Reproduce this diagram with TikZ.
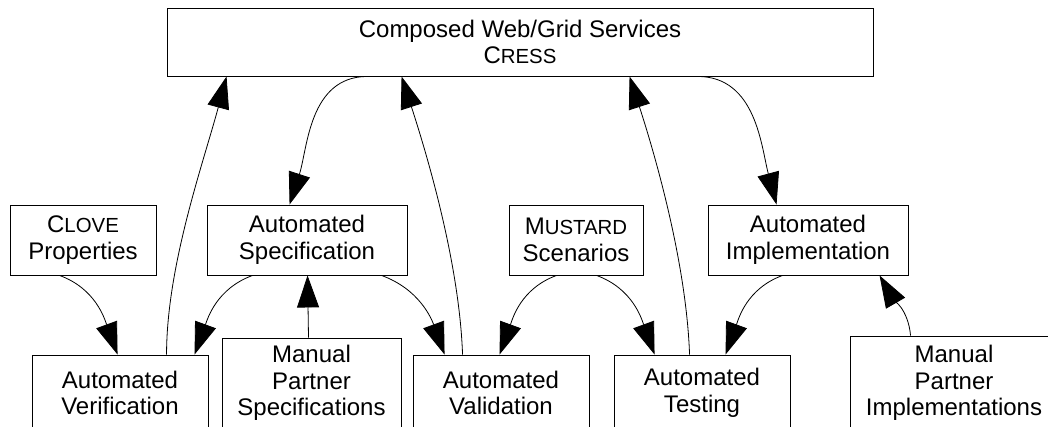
\documentclass[tikz,border=0pt]{standalone}
\usepackage{fontspec}
\setmainfont{Liberation Sans}
\usetikzlibrary{arrows.meta,calc}
% capital initial followed by smaller capitals
\newcommand\fsc[2]{#1{\fontsize{20.4}{26.5}\selectfont #2}}
\begin{document}
\begin{tikzpicture}[x=1pt,y=-1pt,
  box/.style={draw, line width=0.9pt, inner sep=0pt, align=center,
    font=\fontsize{24}{26.5}\selectfont},
  link/.style={line width=0.8pt, -{Triangle[length=32pt,width=22pt]}}]
\useasboundingbox (0,0) rectangle (1048,426);
\clip (0,0) rectangle (1048,426);

% top box
\node[box, minimum width=706pt, minimum height=68pt] (cress) at (520,42)
  {Composed Web/Grid Services\\\fsc{C}{RESS}};

% middle row
\node[box, minimum width=146pt, minimum height=70pt] (clove) at (83,240) {\fsc{C}{LOVE}\\Properties};
\node[box, minimum width=200pt, minimum height=70pt] (spec) at (307,240) {Automated\\Specification};
\node[box, minimum width=134pt, minimum height=70pt] (must) at (576,240) {\fsc{M}{USTARD}\\Scenarios};
\node[box, minimum width=200pt, minimum height=70pt] (impl) at (808,240) {Automated\\Implementation};

% bottom row
\node[box, minimum width=176pt, minimum height=76pt] (ver) at (120,393) {Automated\\Verification};
\node[box, minimum width=179pt, minimum height=90pt] (mps) at (311.5,383) {Manual\\Partner\\Specifications};
\node[box, minimum width=176pt, minimum height=76pt] (val) at (501,393) {Automated\\Validation};
\node[box, minimum width=176pt, minimum height=76pt] (test) at (702,393) {Automated\\Testing};
\node[box, minimum width=208pt, minimum height=94pt] (mpi) at (954,383) {Manual\\Partner\\Implementations};

% connectors to and from the top box
\draw[link] ($(ver.north west)+(135,0)$) to[out=90,in=-105,looseness=0.8] ($(cress.south west)+(60,0)$);
\draw[link] ($(cress.south west)+(201,0)$) to[out=180,in=72] ($(spec.north west)+(83,0)$);
\draw[link] ($(val.north west)+(50,0)$) to[out=92,in=-72,looseness=0.8] ($(cress.south west)+(235,0)$);
\draw[link] ($(test.north west)+(76,0)$) to[out=92,in=-72,looseness=0.8] ($(cress.south west)+(463,0)$);
\draw[link] ($(cress.south west)+(531,0)$) to[out=0,in=105] ($(impl.north west)+(69,0)$);

% connectors between the lower rows
\draw[link] ($(clove.south west)+(50,0)$) to[out=-20,in=110] ($(ver.north west)+(86,0)$);
\draw[link] ($(spec.south west)+(46,0)$) to[out=200,in=70] ($(ver.north west)+(163,0)$);
\draw[link] ($(mps.north)+(-3,0)$) -- ($(spec.south west)+(101,0)$);
\draw[link] ($(spec.south west)+(175,0)$) to[out=-20,in=110] ($(val.north west)+(32,0)$);
\draw[link] ($(must.south west)+(48,0)$) to[out=200,in=70] ($(val.north west)+(87,0)$);
\draw[link] ($(must.south west)+(88,0)$) to[out=-20,in=110] ($(test.north west)+(41,0)$);
\draw[link] ($(impl.south west)+(75,0)$) to[out=200,in=70] ($(test.north west)+(112,0)$);
\draw[link] ($(mpi.north west)+(61,0)$) to[out=95,in=-60] ($(impl.south west)+(172,0)$);
\end{tikzpicture}
\end{document}
